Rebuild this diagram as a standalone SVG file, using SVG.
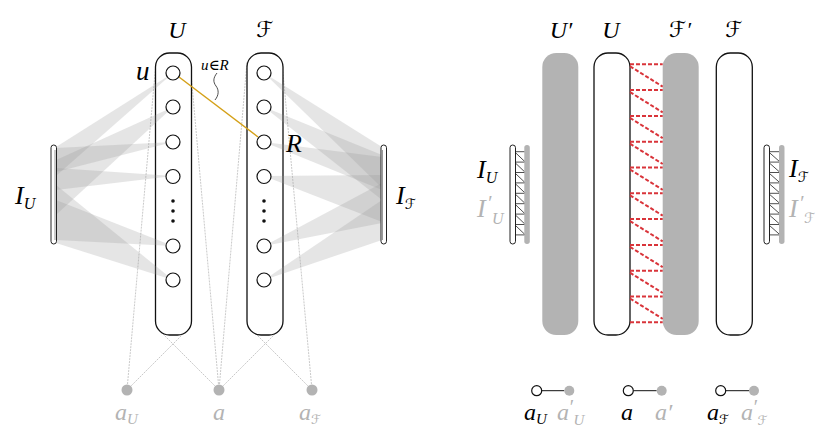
<svg xmlns="http://www.w3.org/2000/svg" width="830" height="439" viewBox="0 0 830 439">
<style>
.m{font-family:"Liberation Serif","DejaVu Serif",serif;font-style:italic;font-weight:400;fill:#000}
.c{font-family:"DejaVu Serif","DejaVu Sans",serif;font-style:normal}
.g{fill:#b3b3b3}
.col{fill:#fff;stroke:#111;stroke-width:1.3}
.gcol{fill:#b3b3b3;stroke:none}
.nd{fill:#fff;stroke:#111;stroke-width:1.2}
.dot{fill:#111}
.band{fill:#999;fill-opacity:0.25;stroke:none}
.dl{stroke:#bbb;stroke-width:0.8;stroke-dasharray:2 1;fill:none}
.red{stroke:#d9343a;stroke-width:2;stroke-dasharray:4 2;fill:none}
.hat{stroke:#222;stroke-width:0.8;fill:none}
.bar{fill:#fff;stroke:#222;stroke-width:1}
</style>

<g id="connectors">
  <line class="dl" x1="127" y1="390" x2="156" y2="62"/>
  <line class="dl" x1="127" y1="390" x2="190" y2="327"/>
  <line class="dl" x1="219" y1="390" x2="157" y2="328"/>
  <line class="dl" x1="219" y1="390" x2="190" y2="62"/>
  <line class="dl" x1="219" y1="390" x2="247" y2="62"/>
  <line class="dl" x1="219" y1="390" x2="281" y2="328"/>
  <line class="dl" x1="312" y1="390" x2="249" y2="327"/>
  <line class="dl" x1="312" y1="390" x2="282" y2="62"/>
</g>

<g id="col-U">
  <rect class="col" x="155.5" y="53" width="36" height="282" rx="14"/>
</g>
<g id="col-F">
  <rect class="col" x="247" y="53" width="36" height="282" rx="14"/>
</g>

<g id="fan-U">
  <polygon class="band" points="173,73 56,147 56,176"/>
  <polygon class="band" points="173,107 56,160 56,215"/>
  <polygon class="band" points="173,142 56,148 56,172"/>
  <polygon class="band" points="173,176 56,168 56,190"/>
  <polygon class="band" points="173,246 56,200 56,240"/>
  <polygon class="band" points="173,280 56,185 56,243"/>
</g>
<g id="fan-F">
  <polygon class="band" points="264,73 382,147 382,188"/>
  <polygon class="band" points="264,107 382,155 382,200"/>
  <polygon class="band" points="264,142 382,157 382,190"/>
  <polygon class="band" points="264,176 382,175 382,222"/>
  <polygon class="band" points="264,246 382,183 382,223"/>
  <polygon class="band" points="264,280 382,200 382,240"/>
</g>

<g id="bar-IU">
  <rect class="bar" x="51" y="145" width="5.5" height="99" rx="2.7"/>
  <line x1="55" y1="150" x2="55" y2="240" stroke="#999" stroke-width="1"/>
</g>
<g id="bar-IF">
  <rect class="bar" x="381" y="145" width="5.5" height="99" rx="2.7"/>
  <line x1="382.5" y1="150" x2="382.5" y2="240" stroke="#999" stroke-width="1"/>
</g>

<g id="edge-uR">
  <line x1="179" y1="77" x2="258" y2="137" stroke="#d4a017" stroke-width="1.4"/>
</g>

<g id="nodes-U">
  <circle class="nd" cx="173" cy="73" r="7"/>
  <circle class="nd" cx="173" cy="107" r="7"/>
  <circle class="nd" cx="173" cy="142" r="7"/>
  <circle class="nd" cx="173" cy="176.5" r="7"/>
  <circle class="dot" cx="173" cy="201" r="1.8"/>
  <circle class="dot" cx="173" cy="211" r="1.8"/>
  <circle class="dot" cx="173" cy="221" r="1.8"/>
  <circle class="nd" cx="173" cy="246" r="7"/>
  <circle class="nd" cx="173" cy="280" r="7"/>
</g>
<g id="nodes-F">
  <circle class="nd" cx="264" cy="73" r="7"/>
  <circle class="nd" cx="264" cy="107" r="7"/>
  <circle class="nd" cx="264" cy="142" r="7"/>
  <circle class="nd" cx="264" cy="176.5" r="7"/>
  <circle class="dot" cx="264" cy="201" r="1.8"/>
  <circle class="dot" cx="264" cy="211" r="1.8"/>
  <circle class="dot" cx="264" cy="221" r="1.8"/>
  <circle class="nd" cx="264" cy="246" r="7"/>
  <circle class="nd" cx="264" cy="280" r="7"/>
</g>

<g id="annot-uR">
  <text class="m" x="201" y="70" font-size="15">u∈R</text>
  <path d="M217,73 C213,78 213,82 216,86 C219,90 219,95 215,100" fill="none" stroke="#222" stroke-width="0.8"/>
</g>

<g id="points-left">
  <circle class="g" cx="127" cy="390" r="5.5"/>
  <circle class="g" cx="219" cy="390" r="5.5"/>
  <circle class="g" cx="312" cy="390" r="5.5"/>
</g>

<g id="labels-left">
  <text class="m" x="177" y="38" font-size="24" text-anchor="middle">U</text>
  <text class="m c" x="265" y="37" font-size="22" text-anchor="middle">ℱ</text>
  <text class="m" x="136" y="80" font-size="27">u</text>
  <text class="m" x="286" y="152" font-size="26">R</text>
  <text class="m" x="15" y="204" font-size="26">I<tspan font-size="16" dy="5">U</tspan></text>
  <text class="m" x="396" y="204" font-size="26">I<tspan class="c" font-size="14" dy="5">ℱ</tspan></text>
  <text class="m" x="115" y="420" font-size="24" style="fill:#b3b3b3">a<tspan font-size="15" dy="4">U</tspan></text>
  <text class="m" x="213" y="420" font-size="24" style="fill:#b3b3b3">a</text>
  <text class="m" x="299" y="420" font-size="24" style="fill:#b3b3b3">a<tspan class="c" font-size="13" dy="4">ℱ</tspan></text>
</g>

<!-- Right panel -->
<g id="col-Uprime"><rect class="gcol" x="542.3" y="53" width="36" height="282" rx="14"/></g>
<g id="col-U2"><rect class="col" x="594" y="53" width="36" height="282" rx="14"/></g>
<g id="col-Fprime"><rect class="gcol" x="662.7" y="53" width="36" height="282" rx="14"/></g>
<g id="col-F2"><rect class="col" x="716.3" y="53" width="36" height="282" rx="14"/></g>

<g id="red-links">
  <path class="red" d="M630,64.3H662.7 M630,90.1H662.7 M630,115.9H662.7 M630,141.7H662.7 M630,167.5H662.7 M630,193.3H662.7 M630,219.1H662.7 M630,244.9H662.7 M630,270.7H662.7 M630,296.5H662.7 M630,322.3H662.7"/>
  <path class="red" d="M630,66.3L662.7,86.6 M630,92.1L662.7,112.4 M630,117.9L662.7,138.2 M630,143.7L662.7,164 M630,169.5L662.7,189.8 M630,195.3L662.7,215.6 M630,221.1L662.7,241.4 M630,246.9L662.7,267.2 M630,272.7L662.7,293 M630,298.5L662.7,318.8"/>
</g>

<g id="bar-IU2">
  <rect class="bar" x="510" y="145" width="5.5" height="99" rx="2.7"/>
  <rect class="gcol" x="524.3" y="145" width="5.5" height="99" rx="2.7"/>
  <path class="hat" d="M515.5,151.7H524.3 M515.5,162.1H524.3 M515.5,172.5H524.3 M515.5,182.9H524.3 M515.5,193.3H524.3 M515.5,203.7H524.3 M515.5,214.1H524.3 M515.5,224.5H524.3 M515.5,234.9H524.3 M515.5,152.7L524.3,161.1 M515.5,163.1L524.3,171.5 M515.5,173.5L524.3,181.9 M515.5,183.9L524.3,192.3 M515.5,194.3L524.3,202.7 M515.5,204.7L524.3,213.1 M515.5,215.1L524.3,223.5 M515.5,225.5L524.3,233.9"/>
</g>
<g id="bar-IF2">
  <rect class="bar" x="764" y="145" width="5.5" height="99" rx="2.7"/>
  <rect class="gcol" x="779" y="145" width="5.5" height="99" rx="2.7"/>
  <path class="hat" d="M769.5,151.7H779 M769.5,162.1H779 M769.5,172.5H779 M769.5,182.9H779 M769.5,193.3H779 M769.5,203.7H779 M769.5,214.1H779 M769.5,224.5H779 M769.5,234.9H779 M769.5,152.7L779,161.1 M769.5,163.1L779,171.5 M769.5,173.5L779,181.9 M769.5,183.9L779,192.3 M769.5,194.3L779,202.7 M769.5,204.7L779,213.1 M769.5,215.1L779,223.5 M769.5,225.5L779,233.9"/>
</g>

<g id="pair-aU">
  <line x1="541.7" y1="390.7" x2="564.3" y2="390.7" stroke="#111" stroke-width="1"/>
  <circle class="nd" cx="536.7" cy="390.7" r="5"/>
  <circle class="g" cx="569.3" cy="390.7" r="5"/>
</g>
<g id="pair-a">
  <line x1="633.3" y1="390.7" x2="656.7" y2="390.7" stroke="#111" stroke-width="1"/>
  <circle class="nd" cx="628.3" cy="390.7" r="5"/>
  <circle class="g" cx="661.7" cy="390.7" r="5"/>
</g>
<g id="pair-aF">
  <line x1="725.7" y1="390.7" x2="749" y2="390.7" stroke="#111" stroke-width="1"/>
  <circle class="nd" cx="720.7" cy="390.7" r="5"/>
  <circle class="g" cx="754" cy="390.7" r="5"/>
</g>

<g id="labels-right">
  <text class="m" x="561" y="38" font-size="24" text-anchor="middle">U′</text>
  <text class="m" x="611" y="38" font-size="24" text-anchor="middle">U</text>
  <text class="m" x="680" y="37" font-size="22" text-anchor="middle"><tspan class="c">ℱ</tspan>′</text>
  <text class="m c" x="734" y="37" font-size="22" text-anchor="middle">ℱ</text>
  <text class="m" x="477" y="178" font-size="26">I<tspan font-size="16" dy="5">U</tspan></text>
  <text class="m" x="477" y="217" font-size="26" style="fill:#b3b3b3">I</text>
  <text class="m" x="487" y="210" font-size="20" style="fill:#b3b3b3">′</text>
  <text class="m" x="492" y="224" font-size="16" style="fill:#b3b3b3">U</text>
  <text class="m" x="789" y="177" font-size="26">I<tspan class="c" font-size="14" dy="5">ℱ</tspan></text>
  <text class="m" x="789" y="217" font-size="26" style="fill:#b3b3b3">I</text>
  <text class="m" x="799" y="210" font-size="20" style="fill:#b3b3b3">′</text>
  <text class="m c" x="804" y="223" font-size="14" style="fill:#b3b3b3">ℱ</text>
  <text class="m" x="524" y="420" font-size="24">a<tspan font-size="15" dy="4">U</tspan></text>
  <text class="m" x="557" y="420" font-size="24" style="fill:#b3b3b3">a</text>
  <text class="m" x="568.5" y="414" font-size="20" style="fill:#b3b3b3">′</text>
  <text class="m" x="573.5" y="425" font-size="15" style="fill:#b3b3b3">U</text>
  <text class="m" x="621" y="420" font-size="24">a</text>
  <text class="m" x="655" y="420" font-size="24" style="fill:#b3b3b3">a′</text>
  <text class="m" x="707" y="420" font-size="24">a<tspan class="c" font-size="13" dy="4">ℱ</tspan></text>
  <text class="m" x="741" y="420" font-size="24" style="fill:#b3b3b3">a</text>
  <text class="m" x="752.5" y="414" font-size="20" style="fill:#b3b3b3">′</text>
  <text class="m c" x="757.5" y="425" font-size="13" style="fill:#b3b3b3">ℱ</text>
</g>
</svg>
